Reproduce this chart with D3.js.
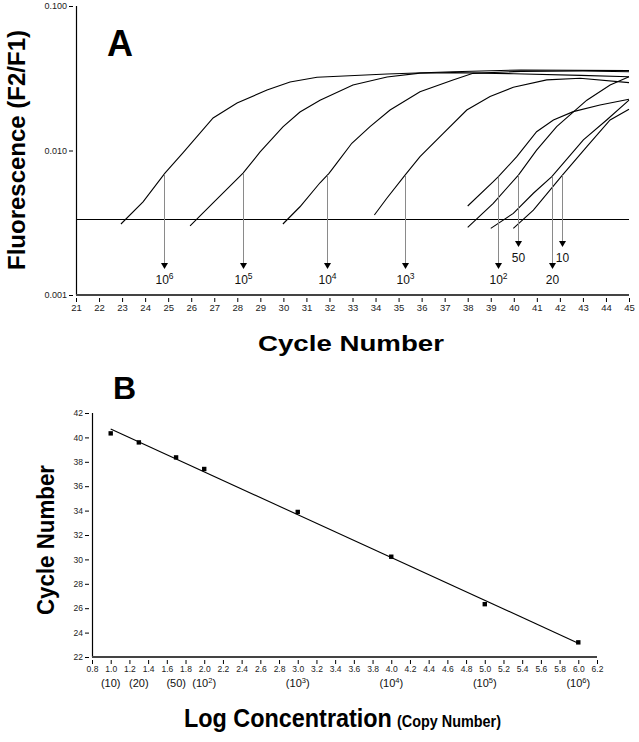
<!DOCTYPE html>
<html><head><meta charset="utf-8">
<script src="https://cdn.jsdelivr.net/npm/d3@7"></script>
<style>
html,body{margin:0;padding:0;background:#fff;}
svg{display:block;font-family:"Liberation Sans",Arial,sans-serif;}
</style></head>
<body><svg id="c" width="639" height="742"></svg>
<script>
// ---------- Panel A data ----------
const curveNames = ["10^6","10^5","10^4","10^3","10^2","50","20","10"];
const c6Cycle = [22.95,23.91,24.86,25.64,26.95,27.99,29.29,30.29,31.46,34.5,37.36,40.3,45];
const c6F     = [0.0031,0.00441,0.00698,0.00962,0.0168,0.0213,0.0262,0.0298,0.0321,0.0338,0.0351,0.0361,0.0357];
const c5Cycle = [25.95,26.95,28.25,28.99,29.98,30.72,31.59,33.02,34.5,35.93,37.4,40,42.9,45];
const c5F     = [0.00301,0.00434,0.00698,0.00977,0.01456,0.01845,0.0223,0.0284,0.0323,0.0343,0.0346,0.0340,0.0331,0.0324];
const c4Cycle = [29.98,30.72,31.59,31.98,32.31,32.97,33.76,34.63,35.93,37.36,38.23,40.3,43,45];
const c4F     = [0.0031,0.00408,0.00598,0.00695,0.00815,0.01122,0.01462,0.01905,0.0255,0.0308,0.0342,0.0353,0.0355,0.0351];
const c3Cycle = [33.95,34.49,35.28,35.93,36.94,37.96,38.97,39.98,41.43,42.88,45];
const c3F     = [0.00358,0.00467,0.00676,0.00906,0.01315,0.01905,0.0236,0.0274,0.0308,0.0316,0.0295];
const c2Cycle = [38.0,39.11,39.33,40.13,40.99,41.72,42.58,43.74,45];
const c2F     = [0.00413,0.00608,0.00659,0.00906,0.01349,0.01626,0.01858,0.02065,0.0226];
const c50Cycle = [38.0,39.11,40.2,40.99,41.86,43.17,44.18,45];
const c50F     = [0.00294,0.00431,0.00676,0.01007,0.01462,0.0223,0.0284,0.0324];
const c20Cycle = [39.0,39.98,40.85,41.65,43.02,44.03,45];
const c20F     = [0.00289,0.00367,0.00506,0.00659,0.01183,0.01626,0.0223];
const c10Cycle = [39.98,40.85,42.11,43.17,44.18,45];
const c10F     = [0.00289,0.00387,0.00676,0.01062,0.01626,0.0193];
const threshold = 0.00336;
const arrowCycles = [24.82,28.23,31.9,35.28,39.33,40.2,41.65,42.11];
const arrowBase = ["10","10","10","10","10","50","20","10"];
const arrowExp  = ["6","5","4","3","2","","",""];
const arrowRow  = [0,0,0,0,0,1,0,1];
const cycleTicks = d3.range(21,46);
const fluorTicks = [0.001,0.01,0.1];
const fluorTickLabels = ["0.001","0.010","0.100"];

// ---------- Panel B data ----------
const logConc = [1.0,1.301,1.699,2.0,3.0,4.0,5.0,6.0];
const ctValues = [40.33,39.59,38.36,37.41,33.89,30.22,26.33,23.2];
const copyBase = ["10","20","50","10","10","10","10","10"];
const copyExp  = ["","","","2","3","4","5","6"];
const concTicks = d3.range(8,63,2).map(v=>v/10);
const ctTicks = d3.range(22,43,2);

const svg = d3.select("#c");
const FONT = '"Liberation Sans",Arial,sans-serif';

// ================= Panel A =================
const xA = d3.scaleLinear().domain([21,45]).range([76,629]);
const yA = d3.scaleLog().domain([0.001,0.1]).range([295,6]);
const gA = svg.append("g");

// y axis
gA.append("line").attr("x1",xA(21)+0.5).attr("x2",xA(21)+0.5).attr("y1",yA(0.1)).attr("y2",yA(0.001))
  .attr("stroke","#000").attr("stroke-width",1.2);
const yAx = d3.axisLeft(yA).tickValues(fluorTicks).tickFormat((d,i)=>fluorTickLabels[i]).tickSize(4).tickPadding(2);
const gy = gA.append("g").attr("transform",`translate(${xA(21)-3},0)`).call(yAx);
gy.select(".domain").remove();
gy.selectAll("text").attr("font-size",9).attr("font-family",FONT).attr("fill","#222");

// x axis
gA.append("line").attr("x1",xA(21)).attr("x2",xA(45)).attr("y1",yA(0.001)).attr("y2",yA(0.001))
  .attr("stroke","#444").attr("stroke-width",2);
const xAx = d3.axisBottom(xA).tickValues(cycleTicks).tickFormat(d3.format("d")).tickSize(4).tickPadding(2);
const gx = gA.append("g").attr("transform",`translate(0,${yA(0.001)+3})`).call(xAx);
gx.select(".domain").remove();
gx.selectAll("text").attr("font-size",9.5).attr("font-family",FONT).attr("fill","#222");

// threshold
const ty = Math.round(yA(threshold))+0.5;
gA.append("line").attr("x1",xA(21)).attr("x2",xA(45)).attr("y1",ty).attr("y2",ty)
  .attr("stroke","#000").attr("stroke-width",1);

// curves
const curves = [[c6Cycle,c6F],[c5Cycle,c5F],[c4Cycle,c4F],[c3Cycle,c3F],[c2Cycle,c2F],[c50Cycle,c50F],[c20Cycle,c20F],[c10Cycle,c10F]]
  .map(([c,f])=>c.map((v,i)=>[v,f[i]]));
const lineA = d3.line().x(d=>xA(d[0])).y(d=>yA(d[1]));
gA.selectAll("path.curve").data(curves).enter().append("path").attr("class","curve")
  .attr("d",lineA).attr("fill","none").attr("stroke","#000").attr("stroke-width",1.1);

// arrows
function curveAt(pts, c){
  for(let i=1;i<pts.length;i++){
    if(c<=pts[i][0]){
      const t=(c-pts[i-1][0])/(pts[i][0]-pts[i-1][0]);
      return Math.pow(10, Math.log10(pts[i-1][1])+t*(Math.log10(pts[i][1])-Math.log10(pts[i-1][1])));
    }
  }
  return pts[pts.length-1][1];
}
const tipY = [269,247];
arrowCycles.forEach((c,i)=>{
  const x = Math.round(xA(c))+0.5;
  const y0 = yA(curveAt(curves[i],c));
  const yt = tipY[arrowRow[i]];
  gA.append("line").attr("x1",x).attr("x2",x).attr("y1",y0).attr("y2",yt-5)
    .attr("stroke","#8a8a8a").attr("stroke-width",1);
  gA.append("path").attr("d",`M${x-3.5},${yt-6}L${x+3.5},${yt-6}L${x},${yt}Z`).attr("fill","#000");
  const t = gA.append("text").attr("x",x).attr("y",yt+15).attr("text-anchor","middle")
    .attr("font-size",12).attr("font-family",FONT).attr("fill","#111");
  t.append("tspan").text(arrowBase[i]);
  if(arrowExp[i]) t.append("tspan").attr("dy",-5).attr("font-size",8.5).text(arrowExp[i]);
});

// titles
svg.append("text").attr("x",107).attr("y",56).attr("font-size",36).attr("font-weight","bold")
  .attr("font-family",FONT).text("A");
svg.append("text").attr("transform","translate(25,150) rotate(-90)").attr("text-anchor","middle")
  .attr("font-size",23).attr("font-weight","bold").attr("font-family",FONT)
  .attr("textLength",240).attr("lengthAdjust","spacingAndGlyphs").text("Fluorescence (F2/F1)");
svg.append("text").attr("x",351).attr("y",351).attr("text-anchor","middle")
  .attr("font-size",22).attr("font-weight","bold").attr("font-family",FONT)
  .attr("textLength",186).attr("lengthAdjust","spacingAndGlyphs").text("Cycle Number");

// ================= Panel B =================
const xB = d3.scaleLinear().domain([0.8,6.2]).range([92,597]);
const yB = d3.scaleLinear().domain([22,42]).range([657,413]);
const gB = svg.append("g");

gB.append("line").attr("x1",xB(0.8)+0.5).attr("x2",xB(0.8)+0.5).attr("y1",yB(42)).attr("y2",yB(22))
  .attr("stroke","#000").attr("stroke-width",1.2);
const yBx = d3.axisLeft(yB).tickValues(ctTicks).tickFormat(d3.format("d")).tickSize(4).tickPadding(2);
const gyb = gB.append("g").attr("transform",`translate(${xB(0.8)-3},0)`).call(yBx);
gyb.select(".domain").remove();
gyb.selectAll("text").attr("font-size",8.5).attr("font-family",FONT).attr("fill","#222");

gB.append("line").attr("x1",xB(0.8)).attr("x2",xB(6.2)).attr("y1",yB(22)).attr("y2",yB(22))
  .attr("stroke","#444").attr("stroke-width",2);
const xBx = d3.axisBottom(xB).tickValues(concTicks).tickFormat(d3.format(".1f")).tickSize(4).tickPadding(2);
const gxb = gB.append("g").attr("transform",`translate(0,${yB(22)+3})`).call(xBx);
gxb.select(".domain").remove();
gxb.selectAll("text").attr("font-size",8.5).attr("font-family",FONT).attr("fill","#222");

// copy number labels
logConc.forEach((v,i)=>{
  const t = gB.append("text").attr("x",xB(Math.round(v*10)/10)).attr("y",687).attr("text-anchor","middle")
    .attr("font-size",11).attr("font-family",FONT).attr("fill","#111");
  t.append("tspan").text("("+copyBase[i]);
  if(copyExp[i]) t.append("tspan").attr("dy",-4).attr("font-size",7.5).text(copyExp[i]);
  t.append("tspan").attr("dy",copyExp[i]?4:0).text(")");
});

// regression line (least squares)
const mx = d3.mean(logConc), my = d3.mean(ctValues);
const slope = d3.sum(logConc.map((x,i)=>(x-mx)*(ctValues[i]-my)))/d3.sum(logConc.map(x=>(x-mx)*(x-mx)));
const icpt = my - slope*mx;
const fitX = [d3.min(logConc), d3.max(logConc)];
gB.append("path").datum(fitX.map(x=>[x, icpt+slope*x]))
  .attr("d",d3.line().x(d=>xB(d[0])).y(d=>yB(d[1]))).attr("fill","none").attr("stroke","#000").attr("stroke-width",1.1);

gB.selectAll("rect.pt").data(logConc).enter().append("rect").attr("class","pt")
  .attr("x",(d)=>xB(d)-2.2).attr("y",(d,i)=>yB(ctValues[i])-2.2).attr("width",4.4).attr("height",4.4).attr("fill","#000");

svg.append("text").attr("x",113).attr("y",399).attr("font-size",32).attr("font-weight","bold")
  .attr("font-family",FONT).text("B");
svg.append("text").attr("transform","translate(54,540) rotate(-90)").attr("text-anchor","middle")
  .attr("font-size",24).attr("font-weight","bold").attr("font-family",FONT)
  .attr("textLength",150).attr("lengthAdjust","spacingAndGlyphs").text("Cycle Number");
svg.append("text").attr("transform","translate(184,727) scale(0.9,1)").attr("font-weight","bold").attr("font-family",FONT)
  .attr("font-size",26).text("Log Concentration");
svg.append("text").attr("transform","translate(397,727) scale(0.9,1)").attr("font-weight","bold").attr("font-family",FONT)
  .attr("font-size",16).text("(Copy Number)");
</script></body></html>
